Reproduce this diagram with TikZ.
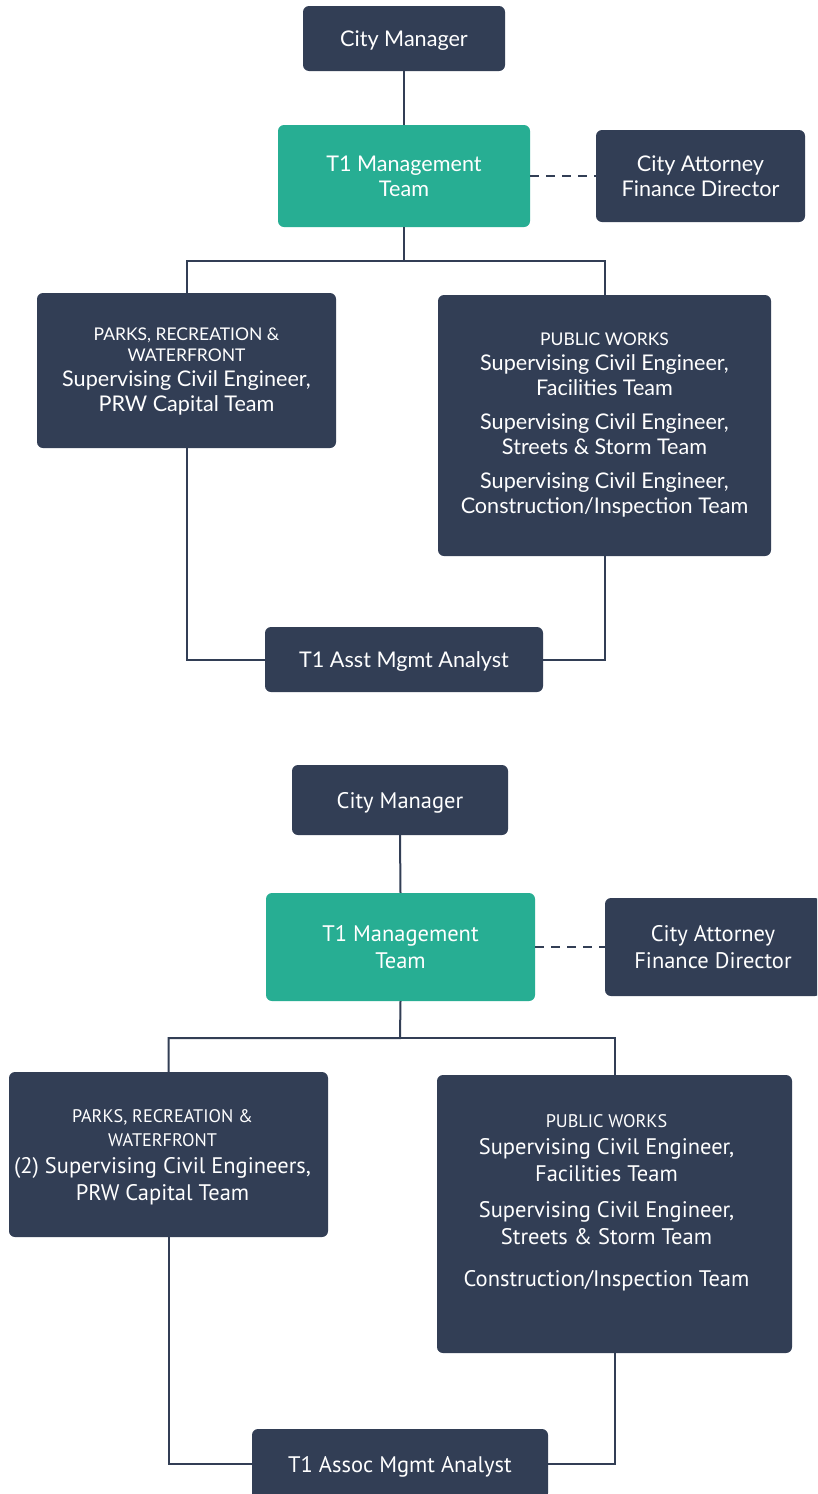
\documentclass[tikz,border=0pt]{standalone}
\usepackage{fontspec}
\newfontfamily\topfont{Lato}
\newfontfamily\botfont{PT Sans}
\definecolor{navy}{HTML}{323E55}
\definecolor{mgmtgreen}{HTML}{27AE93}
\newcommand{\capsA}{\fontsize{17.5}{20}\selectfont}
\newcommand{\capsB}{\fontsize{18.2}{21}\selectfont}
\begin{document}
\begin{tikzpicture}[x=1pt,y=-1pt,
  box/.style={fill=navy, rounded corners=6pt, text=white, align=center, inner sep=0pt},
  mgmt/.style={box, fill=mgmtgreen},
  oneline/.style={text depth=0pt},
  topf/.style={font=\topfont\fontsize{21.6}{25}\selectfont},
  botf/.style={font=\botfont\fontsize{22.5}{27}\selectfont},
  link/.style={draw=navy, line width=2pt},
  dashlink/.style={link, dash pattern=on 9pt off 7pt},
  lbl/.style={text=white, align=center, inner sep=0pt}]
\useasboundingbox (0,0) rectangle (817,1494);
\fill[white] (0,0) rectangle (817,1494);
\clip (0,0) rectangle (817,1494);

% ---------- upper chart ----------
\node[box, topf, oneline, minimum width=202pt, minimum height=65pt] (cm1) at (404,38.5) {City Manager};
\node[mgmt, topf, minimum width=252pt, minimum height=102pt] (mt1) at (404,176) {T1 Management\\Team};
\node[box, topf, minimum width=209pt, minimum height=92pt] (ca1) at (700.5,176) {City Attorney\\Finance Director};
\node[box, minimum width=299pt, minimum height=155pt] (prw1) at (186.5,370.5) {};
\node[lbl, topf] at ([yshift=-1.5pt]prw1.center)
  {{\capsA PARKS, RECREATION \&}\\[-4pt]{\capsA WATERFRONT}\\Supervising Civil Engineer,\\PRW Capital Team};
\node[box, topf, minimum width=333pt, minimum height=261pt] (pw1) at (604.5,425.5)
  {{\capsA PUBLIC WORKS}\\Supervising Civil Engineer,\\Facilities Team\\[9pt]
   Supervising Civil Engineer,\\Streets \& Storm Team\\[9pt]
   Supervising Civil Engineer,\\Construction/Inspection Team};
\node[box, topf, oneline, minimum width=278pt, minimum height=65pt] (an1) at (404,659.5) {T1 Asst Mgmt Analyst};

\coordinate (j1) at (404,261);
\draw[link] (cm1.south) -- (mt1.north);
\draw[link] (mt1.south) -- (j1) -| (prw1.north);
\draw[link] (j1) -| (pw1.north);
\draw[dashlink] (mt1.east) -- (ca1.west);
\draw[link] (prw1.south) |- (an1.west);
\draw[link] (pw1.south) |- (an1.east);

% ---------- lower chart ----------
\node[box, botf, oneline, minimum width=216pt, minimum height=70pt] (cm2) at (400,800) {City Manager};
\node[mgmt, botf, minimum width=269pt, minimum height=108pt] (mt2) at (400.5,947) {T1 Management\\Team};
\node[box, botf, minimum width=216pt, minimum height=98pt] (ca2) at (713,947) {City Attorney\\Finance Director};
\node[box, minimum width=319pt, minimum height=165pt] (prw2) at (168.5,1154.5) {};
\node[lbl, botf] at ([xshift=-6pt,yshift=-3pt]prw2.center)
  {{\capsB PARKS, RECREATION \&}\\[-3pt]{\capsB WATERFRONT}\\(2) Supervising Civil Engineers,\\PRW Capital Team};
\node[box, minimum width=355pt, minimum height=278pt] (pw2) at (614.5,1214) {};
\node[lbl, botf] at ([xshift=-8pt,yshift=11pt]pw2.center)
  {{\capsB PUBLIC WORKS}\\Supervising Civil Engineer,\\Facilities Team\\[9pt]
   Supervising Civil Engineer,\\Streets \& Storm Team\\[15pt]
   Construction/Inspection Team};
\node[box, botf, oneline, minimum width=296pt, minimum height=70pt] (an2) at (400,1464) {T1 Assoc Mgmt Analyst};

\coordinate (j2) at (400,1038);
\draw[link] (cm2.south) -- (mt2.north);
\draw[link] (mt2.south) -- (j2) -| (prw2.north);
\draw[link] (j2) -| (pw2.north);
\draw[dashlink] (mt2.east) -- (ca2.west);
\draw[link] (prw2.south) |- (an2.west);
\draw[link] (pw2.south) |- (an2.east);
\end{tikzpicture}
\end{document}
